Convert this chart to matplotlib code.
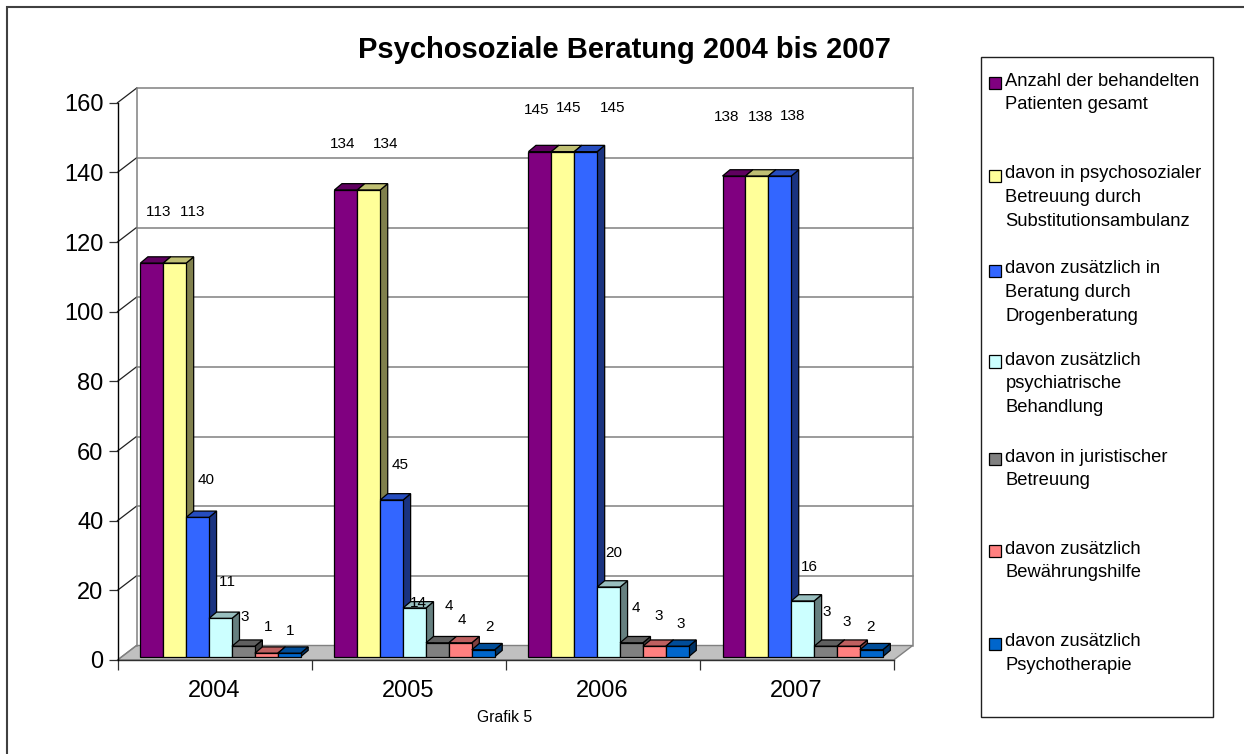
import matplotlib
matplotlib.use("Agg")
import matplotlib.pyplot as plt
from matplotlib.patches import Rectangle
from matplotlib.lines import Line2D
from matplotlib.colors import to_rgb

plt.rcParams['font.family'] = ['Liberation Sans', 'DejaVu Sans']
plt.rcParams['text.kerning_factor'] = 6

years = ['2004', '2005', '2006', '2007']
patients_total = [113, 134, 145, 138]
psychosocial = [113, 134, 145, 138]
drug_counselling = [40, 45, 145, 138]
psychiatric = [11, 14, 20, 16]
legal = [3, 4, 4, 3]
probation = [1, 4, 3, 3]
psychotherapy = [1, 2, 3, 2]
series_values = [patients_total, psychosocial, drug_counselling, psychiatric, legal, probation, psychotherapy]
series_names = [
    'Anzahl der behandelten\nPatienten gesamt',
    'davon in psychosozialer\nBetreuung durch\nSubstitutionsambulanz',
    'davon zusätzlich in\nBeratung durch\nDrogenberatung',
    'davon zusätzlich\npsychiatrische\nBehandlung',
    'davon in juristischer\nBetreuung',
    'davon zusätzlich\nBewährungshilfe',
    'davon zusätzlich\nPsychotherapie',
]
series_colors = ['#800080', '#FFFF99', '#3366FF', '#CCFFFF', '#808080', '#FF8080', '#0066CC']
y_ticks = [0, 20, 40, 60, 80, 100, 120, 140, 160]

# label placement relative to each bar top (pixels): per year, per series
label_dx = [[7, 18, 8, 6.5, 1.6, 1.7, 0.8],
            [-3, 17, 8, 3.4, 11.5, 1.6, 6.7],
            [-3, 6, 27, 5.4, 4.5, 4.6, 3.7],
            [-7, 4, 13, 6.4, 1.5, -1.4, -1.3]]
label_dy = [[51, 51, 37, 36, 29, 26, 22],
            [46, 46, 35, 5, 37, 23, 23],
            [42, 44, 44, 34, 35, 30, 22],
            [59, 59, 60, 34, 34, 24, 23]]

W, H = 1244, 754
DPI = 100
fig = plt.figure(figsize=(W / DPI, H / DPI), dpi=DPI, facecolor='white')


def fx(p):
    return p / W


def fy(p):
    return 1 - p / H


# front plane of the plot, in pixels
L, R, T, B = 117.5, 893.7, 102.7, 660.0
ax = fig.add_axes([fx(L), fy(B), (R - L) / W, (B - T) / H], facecolor='none')
ax.set_xlim(0, len(years))
ax.set_ylim(0, 160)
ppx = (R - L) / len(years)
ppy = (B - T) / 160

# depth vectors in pixels converted into data units
wall_dx, wall_dy = 19 / ppx, 14.5 / ppy
shift_x, shift_y = 6 / ppx, 3.3 / ppy
depth_x, depth_y = 7.5 / ppx, 6.3 / ppy
bar_w = 22.9 / ppx

GRID = '#808080'
xmax = len(years)
# floor
ax.fill([0, xmax, xmax + wall_dx, wall_dx], [0, 0, wall_dy, wall_dy],
        facecolor='#C0C0C0', edgecolor=GRID, lw=1, clip_on=False, zorder=1)
# back and side walls
for t in y_ticks:
    if t > 0:
        ax.plot([wall_dx, xmax + wall_dx], [t + wall_dy, t + wall_dy], color=GRID, lw=1.1, clip_on=False, zorder=1)
    ax.plot([0, wall_dx], [t, t + wall_dy], color='#202020' if t else GRID, lw=0.9, clip_on=False, zorder=1)
for xw in (wall_dx, xmax + wall_dx):
    ax.plot([xw, xw], [wall_dy, 160 + wall_dy], color=GRID, lw=1.1, clip_on=False, zorder=1)


def shade(c, f):
    return tuple(v * f for v in to_rgb(c))


z = 2
for g in range(len(years)):
    for i, (vals, col) in enumerate(zip(series_values, series_colors)):
        v = vals[g]
        x0 = g + 0.5 + shift_x + (i - 3.5) * bar_w
        x1 = x0 + bar_w
        y0, y1 = shift_y, shift_y + v
        ax.fill([x1, x1 + depth_x, x1 + depth_x, x1], [y0, y0 + depth_y, y1 + depth_y, y1],
                facecolor=shade(col, 0.5), edgecolor='black', lw=0.9, clip_on=False, zorder=z)
        ax.fill([x0, x1, x1 + depth_x, x0 + depth_x], [y1, y1, y1 + depth_y, y1 + depth_y],
                facecolor=shade(col, 0.75), edgecolor='black', lw=0.9, clip_on=False, zorder=z)
        ax.bar(x0, v, bar_w, bottom=y0, align='edge', facecolor=col, edgecolor='black', lw=0.9,
               clip_on=False, zorder=z)
        z += 1
for g in range(len(years)):
    for i, vals in enumerate(series_values):
        v = vals[g]
        xc = g + 0.5 + shift_x + (i - 3) * bar_w
        ax.annotate(str(v), xy=(xc, shift_y + v),
                    xytext=(label_dx[g][i] * 72 / DPI, label_dy[g][i] * 72 / DPI),
                    textcoords='offset points', ha='center', va='center',
                    fontsize=11, color='black', zorder=200, annotation_clip=False)

# axes
for s in ('top', 'right'):
    ax.spines[s].set_visible(False)
ax.spines['left'].set_color('black')
ax.spines['left'].set_linewidth(1)
ax.spines['bottom'].set_color('#303030')
ax.spines['bottom'].set_linewidth(1)
ax.spines['bottom'].set_zorder(1.5)
ax.set_yticks(y_ticks)
ax.tick_params(axis='y', length=6.5, width=0.9, color='#303030', labelsize=17, pad=3.5)
ax.set_xticks(range(len(years) + 1))
ax.set_xticklabels([])
ax.tick_params(axis='x', which='major', length=7, width=0.9, color='#303030')
ax.set_xticks([g + 0.5 for g in range(len(years))], minor=True)
ax.set_xticklabels(years, minor=True)
ax.tick_params(axis='x', which='minor', length=0, labelsize=17, pad=14.5)

# figure furniture
fig.text(fx(624.5), fy(58.5), 'Psychosoziale Beratung 2004 bis 2007', ha='center', va='baseline',
         fontsize=21, fontweight='bold')
fig.text(fx(504.7), fy(717), 'Grafik 5', ha='center', va='center', fontsize=11.3)
fig.add_artist(Line2D([fx(7.5), fx(7.5), 1], [0, fy(6.5), fy(6.5)], transform=fig.transFigure,
                      color='#404040', lw=1.5, solid_joinstyle='miter'))
fig.add_artist(Rectangle((fx(980.5), fy(717)), (1213 - 980.5) / W, (717 - 57) / H, transform=fig.transFigure,
                         fill=False, edgecolor='#202020', lw=1))

# legend
legend_first_line = [80, 173, 268, 359, 456, 548, 641]
for y, name, col in zip(legend_first_line, series_names, series_colors):
    fig.add_artist(Rectangle((fx(989), fy(y + 9)), 12 / W, 12.5 / H, transform=fig.transFigure,
                             facecolor=col, edgecolor='black', lw=0.9))
    fig.text(fx(1005.5), fy(y - 7.5), name, ha='left', va='top', fontsize=13.2, linespacing=1.53)

fig.savefig('out.png', dpi=DPI)
